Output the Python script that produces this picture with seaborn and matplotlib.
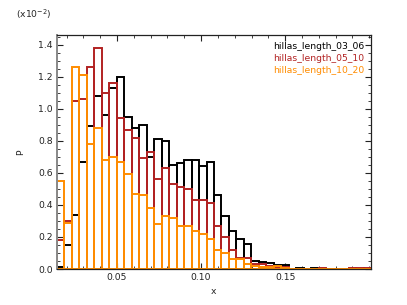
import numpy as np
import seaborn as sns
import matplotlib
matplotlib.use('Agg')
from matplotlib import pyplot as plt
from matplotlib.ticker import MultipleLocator, FixedLocator, FormatStrFormatter

# histogram contents (units of 1e-2), 42 bins
x_min, x_max, n_bins = 0.0143, 0.2010, 42
labels = ['hillas_length_03_06', 'hillas_length_05_10', 'hillas_length_10_20']
colors = ['#000000', '#b22222', '#ff8c00']
x_ticks = [0.05, 0.10, 0.15]

p_03_06 = [0.01, 0.15, 0.34, 0.67, 0.89, 1.08, 0.96, 1.13, 1.20, 0.95,
           0.88, 0.90, 0.70, 0.81, 0.80, 0.65, 0.66, 0.68, 0.68, 0.64,
           0.665, 0.46, 0.33, 0.24, 0.19, 0.155, 0.05, 0.045, 0.035, 0.025,
           0.025, 0.002, 0.005, 0.002, 0.005, 0.002, 0.003, 0.002, 0.0, 0.002,
           0.001, 0.001]
p_05_10 = [0.18, 0.30, 1.05, 1.06, 1.26, 1.38, 1.10, 1.16, 0.94, 0.87,
           0.82, 0.69, 0.73, 0.56, 0.63, 0.53, 0.51, 0.50, 0.43, 0.43,
           0.41, 0.27, 0.20, 0.12, 0.07, 0.07, 0.03, 0.03, 0.02, 0.01,
           0.01, 0.003, 0.003, 0.002, 0.002, 0.005, 0.003, 0.003, 0.0, 0.004,
           0.004, 0.004]
p_10_20 = [0.55, 0.29, 1.26, 1.21, 0.78, 0.88, 0.68, 0.70, 0.67, 0.59,
           0.47, 0.46, 0.38, 0.28, 0.33, 0.32, 0.27, 0.27, 0.24, 0.22,
           0.19, 0.12, 0.10, 0.06, 0.06, 0.03, 0.02, 0.01, 0.01, 0.02,
           0.005, 0.003, 0.002, 0.0, 0.002, 0.001, 0.002, 0.001, 0.0, 0.001,
           0.001, 0.0]
series = [p_03_06, p_05_10, p_10_20]

edges = np.linspace(x_min, x_max, n_bins + 1)
centers = 0.5 * (edges[:-1] + edges[1:])

sns.set_style('ticks')
plt.rcParams['font.family'] = ['DejaVu Sans']
plt.rcParams['font.size'] = 6.7

fig = plt.figure(figsize=(4.07, 3.05), dpi=100)
ax = fig.add_axes([0.140, 0.118, 0.7715, 0.767])

# black first, orange drawn on top
for vals, c in zip(series, colors):
    sns.histplot(x=centers, weights=np.asarray(vals), bins=n_bins,
                 binrange=(x_min, x_max), fill=False, color=c,
                 linewidth=1.4, ax=ax)

ax.set_xlim(x_min, x_max)
ax.set_ylim(0, 1.46)
ax.xaxis.set_major_locator(FixedLocator(x_ticks))
ax.xaxis.set_minor_locator(MultipleLocator(0.01))
ax.yaxis.set_major_locator(MultipleLocator(0.2))
ax.yaxis.set_minor_locator(MultipleLocator(0.05))
ax.xaxis.set_major_formatter(FormatStrFormatter('%.2f'))
ax.yaxis.set_major_formatter(FormatStrFormatter('%.1f'))
ax.tick_params(which='both', direction='in', top=True, right=True,
               labelsize=6.7, colors='#222222', pad=3)
ax.tick_params(which='major', length=4, width=0.8)
ax.tick_params(which='minor', length=2, width=0.6)
for s in ax.spines.values():
    s.set_linewidth(0.9)
    s.set_color('#222222')
ax.spines['left'].set_color('#888888')
ax.spines['left'].set_linewidth(1.4)

ax.set_xlabel('')
ax.set_ylabel('')
fig.text(213 / 407, 1 - 292 / 305, 'x', ha='center', va='center', fontsize=6.7)
fig.text(21 / 407, 1 - 152 / 305, 'P', ha='center', va='center', fontsize=6.7, rotation=90)
fig.text(16 / 407, 1 - 14 / 305, r'(x10$^{-2}$)', ha='left', va='center', fontsize=6.7)

for i, (lab, c) in enumerate(zip(labels, colors)):
    ax.text(0.978, 0.953 - i * 0.0515, lab, color=c, ha='right', va='center',
            transform=ax.transAxes, fontsize=6.7)

plt.savefig('out.png', dpi=100)
plt.close(fig)
